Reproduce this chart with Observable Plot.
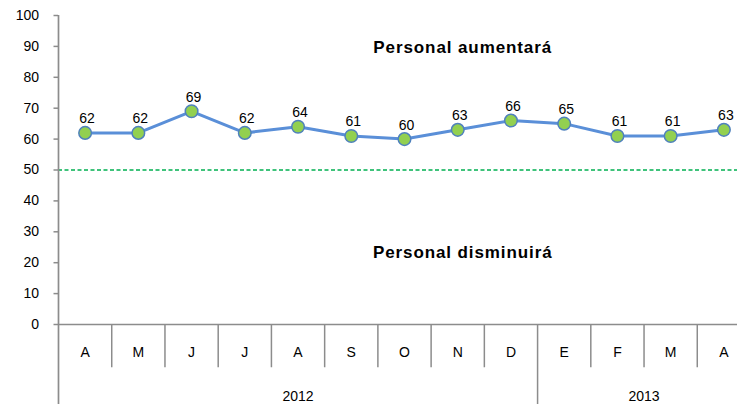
<!DOCTYPE html>
<html>
<head>
<meta charset="utf-8">
<script src="https://cdn.jsdelivr.net/npm/d3@7"></script>
<script src="https://cdn.jsdelivr.net/npm/@observablehq/plot@0.6"></script>
<style>
  html, body { margin: 0; padding: 0; background: #fff; overflow: hidden; }
  #chart { width: 737px; height: 404px; overflow: hidden; }
  .annot text { letter-spacing: 0.9px; }
</style>
</head>
<body>
<div id="chart"></div>
<script>
const months = ["A", "M", "J", "J", "A", "S", "O", "N", "D", "E", "F", "M", "A"];
const years = ["2012", "2012", "2012", "2012", "2012", "2012", "2012", "2012", "2012", "2013", "2013", "2013", "2013"];
const values = [62, 62, 69, 62, 64, 61, 60, 63, 66, 65, 61, 61, 63];
const threshold = 50;
const yTicks = [0, 10, 20, 30, 40, 50, 60, 70, 80, 90, 100];
const annotations = [
  {text: "Personal aumentará", i: 7, v: 89.5},
  {text: "Personal disminuirá", i: 7, v: 23.2}
];

const data = values.map((v, i) => ({i, v, month: months[i], year: years[i]}));

// year groups
const yearGroups = [];
years.forEach((y, i) => {
  const last = yearGroups[yearGroups.length - 1];
  if (last && last.year === y) last.end = i;
  else yearGroups.push({year: y, start: i, end: i});
});
const yearBounds = [-0.5, ...yearGroups.map(g => g.end + 0.5)];
const monthBounds = d3.range(0, months.length + 1).map(k => k - 0.5).filter(b => !yearBounds.includes(b));

const n = months.length;
const gray = "#8c8c8c";
const font = "'Liberation Sans', Arial, sans-serif";

const chart = Plot.plot({
  width: 737,
  height: 404,
  marginLeft: 58,
  marginTop: 15,
  marginBottom: 80,
  marginRight: 0,
  style: {fontFamily: font, fontSize: "14px", color: "#000", overflow: "hidden"},
  x: {type: "linear", domain: [-0.5, n - 0.5], range: [58, 750], axis: null},
  y: {domain: [0, 100], range: [324, 15], axis: null},
  marks: [
    // threshold line
    Plot.ruleY([threshold], {x1: -0.5, x2: n - 0.5, stroke: "#00B050", strokeWidth: 1.4, strokeDasharray: "4,2.5"}),
    // y axis
    Plot.axisY({ticks: yTicks, tickSize: 4.5, tickPadding: 15, stroke: gray, strokeWidth: 1.5, fontSize: 14, fill: "#000", label: null}),
    Plot.ruleX([-0.5], {y1: 100, y2: -27, stroke: gray, strokeWidth: 1.7}),
    // x baseline
    Plot.ruleY([0], {x1: -0.5, x2: n - 0.5, stroke: gray, strokeWidth: 1.7}),
    // month separators
    Plot.ruleX(monthBounds, {y1: 0, y2: -14, stroke: gray, strokeWidth: 1.5}),
    // year separators
    Plot.ruleX(yearBounds.slice(1), {y1: 0, y2: -27, stroke: gray, strokeWidth: 1.5}),
    // month labels
    Plot.text(data, {x: "i", y: -9, text: "month", fontSize: 14, fill: "#000"}),
    // year labels
    Plot.text(yearGroups, {x: d => (d.start + d.end) / 2, y: -23.3, text: "year", fontSize: 14, fill: "#000"}),
    // series
    Plot.line(data, {x: "i", y: "v", stroke: "#5A8FD8", strokeWidth: 3}),
    Plot.dot(data, {x: "i", y: "v", r: 6.3, fill: "#92D050", stroke: "#4F81BD", strokeWidth: 1.5}),
    Plot.text(data, {x: "i", y: "v", text: d => String(d.v), dy: -14, dx: 2, fontSize: 14, fill: "#000"}),
    // annotations
    Plot.text(annotations, {x: "i", y: "v", text: "text", dx: 5, fontSize: 17, fontWeight: "bold", fill: "#000", className: "annot"})
  ]
});
document.getElementById("chart").appendChild(chart);
</script>
</body>
</html>
